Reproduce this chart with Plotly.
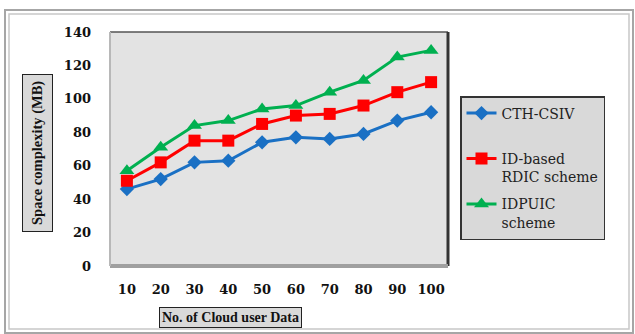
import plotly.graph_objects as go

# Number of cloud user data items (x categories)
users = ["10", "20", "30", "40", "50", "60", "70", "80", "90", "100"]

# Space complexity in MB for each scheme
cth_csiv = [46, 52, 62, 63, 74, 77, 76, 79, 87, 92]
id_rdic = [51, 62, 75, 75, 85, 90, 91, 96, 104, 110]
idpuic = [57, 71, 84, 87, 94, 96, 104, 111, 125, 129]

y_ticks = [0, 20, 40, 60, 80, 100, 120, 140]

W, H = 635, 334
ML, MR, MT, MB = 110, 187, 32, 68
PW, PH = W - ML - MR, H - MT - MB


def px(x):
    return (x - ML) / PW


def py(y):
    return (H - MB - y) / PH


SERIF = "DejaVu Serif"
TIMES = "Liberation Serif"

fig = go.Figure()

fig.add_trace(go.Scatter(
    x=users, y=cth_csiv, name="CTH-CSIV<br> ", mode="lines+markers",
    line=dict(color="#1a70c4", width=3),
    marker=dict(symbol="diamond", size=11, color="#1a70c4"),
    legendgroup="a",
))
fig.add_trace(go.Scatter(
    x=users, y=id_rdic, name="ID-based<br>RDIC scheme", mode="lines+markers",
    line=dict(color="#ff0000", width=3),
    marker=dict(symbol="square", size=12, color="#ff0000"),
    legendgroup="b",
))
fig.add_trace(go.Scatter(
    x=users, y=idpuic, name="IDPUIC<br>scheme", mode="lines+markers",
    line=dict(color="#00b050", width=3),
    marker=dict(symbol="triangle-up", size=13, color="#00b050"),
    legendgroup="c",
))

shapes = []
# outer chart frame (double gray line)
shapes.append(dict(type="rect", xref="paper", yref="paper", layer="below",
                   x0=px(5), x1=px(633), y0=py(333), y1=py(10),
                   line=dict(color="#a6a6a6", width=2)))
shapes.append(dict(type="rect", xref="paper", yref="paper", layer="below",
                   x0=px(9), x1=px(629), y0=py(329), y1=py(14),
                   line=dict(color="#c8c8c8", width=1.5)))
# plot area bevel
shapes.append(dict(type="line", xref="paper", yref="paper",
                   x0=0, x1=1, y0=1, y1=1, line=dict(color="#555555", width=1.5)))
shapes.append(dict(type="line", xref="paper", yref="paper",
                   x0=1, x1=1, y0=0, y1=1, line=dict(color="#333333", width=3)))
shapes.append(dict(type="line", xref="paper", yref="paper",
                   x0=0, x1=1, y0=0, y1=0, line=dict(color="#a0a0a0", width=4)))
shapes.append(dict(type="line", xref="paper", yref="paper",
                   x0=0, x1=0, y0=0, y1=1, line=dict(color="#b8b8b8", width=2)))

annotations = [
    dict(text="<b>Space complexity (MB)</b>", xref="paper", yref="paper",
         x=px(37), y=py(153), xanchor="center", yanchor="middle",
         textangle=-90, showarrow=False,
         font=dict(family=TIMES, size=14.5, color="#111111"),
         bgcolor="#d9d9d9", bordercolor="#222222", borderwidth=1, borderpad=6),
    dict(text="<b>No. of Cloud user Data</b>", xref="paper", yref="paper",
         x=px(230), y=py(317), xanchor="center", yanchor="middle",
         showarrow=False,
         font=dict(family=TIMES, size=14, color="#111111"),
         bgcolor="#d9d9d9", bordercolor="#222222", borderwidth=1, borderpad=2),
]

fig.update_layout(
    width=W, height=H,
    margin=dict(l=ML, r=MR, t=MT, b=MB),
    paper_bgcolor="white",
    plot_bgcolor="#e3e3e3",
    shapes=shapes,
    annotations=annotations,
    showlegend=True,
    legend=dict(
        x=px(460), y=py(96), xanchor="left", yanchor="top",
        bgcolor="#d9d9d9", bordercolor="#333333", borderwidth=1.5,
        font=dict(family=SERIF, size=14, color="#222222"),
        valign="top", tracegroupgap=6,
    ),
    xaxis=dict(
        type="category", range=[-0.5, 9.5], showgrid=False, zeroline=False,
        showline=False, ticks="", ticklabelstandoff=14,
        tickfont=dict(family=SERIF, size=13, color="#111111", weight="bold"),
    ),
    yaxis=dict(
        range=[0, 140], tickvals=y_ticks, showgrid=False, zeroline=False,
        showline=False, ticks="", ticklabelstandoff=18,
        tickfont=dict(family=SERIF, size=13, color="#111111", weight="bold"),
    ),
)

fig.write_html("out.html")
